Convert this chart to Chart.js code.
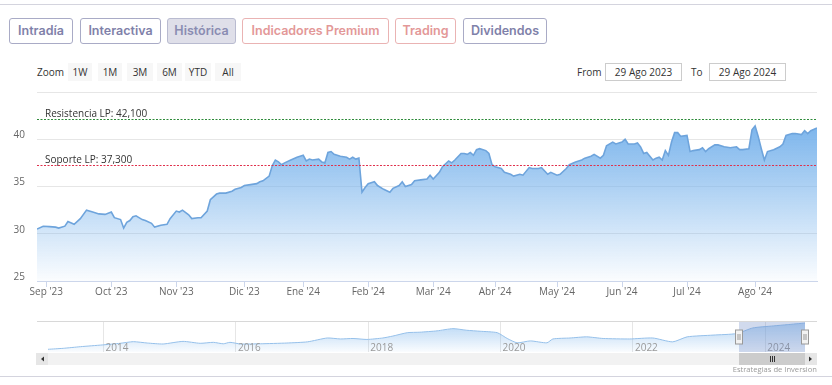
<!DOCTYPE html>
<html lang="es">
<head>
<meta charset="utf-8">
<title>Histórica</title>
<script src="https://cdn.jsdelivr.net/npm/chart.js@4.4.1/dist/chart.umd.min.js"></script>
<style>
  html, body { margin: 0; padding: 0; background: #fff; }
  body { width: 832px; height: 385px; position: relative; overflow: hidden; font-family: "Open Sans", "DejaVu Sans", sans-serif; }
  .rule { position: absolute; left: 0; width: 832px; height: 1px; background: #d4d4de; }
  .tab { position: absolute; top: 18px; height: 26px; box-sizing: border-box; border: 1px solid #a9abc6; border-radius: 3px;
         font-family: Inter, "Noto Sans", sans-serif; font-weight: 600; font-size: 12.5px; line-height: 24px; text-align: center; color: #7f81a9; }
  .tab.on { background: #dfdfe9; border-color: #b9bbd0; color: #8a8cb2; }
  .tab.warm { border-color: #eab3b3; color: #e39898; }
  .lbl { position: absolute; top: 63px; font-size: 10px; line-height: 18px; color: #333; }
  .btn { position: absolute; top: 63px; height: 18px; background: #f7f7f7; font-size: 10px; line-height: 18px; text-align: center; color: #333; }
  .inp { position: absolute; top: 63px; height: 18px; box-sizing: border-box; border: 1px solid #ccc; font-size: 10px; line-height: 16px; text-align: center; color: #333; }
  #main { position: absolute; left: 0; top: 85px; }
  #nav { position: absolute; left: 0; top: 318px; }
  .credit { position: absolute; right: 15px; top: 364px; font-size: 7.6px; line-height: 11px; color: #999; }
</style>
</head>
<body>
<div class="rule" style="top:4px"></div>

<div class="tab" style="left:9px;width:64px">Intradía</div>
<div class="tab" style="left:80px;width:81px">Interactiva</div>
<div class="tab on" style="left:167px;width:69px">Histórica</div>
<div class="tab warm" style="left:242px;width:147px">Indicadores Premium</div>
<div class="tab warm" style="left:395px;width:61px">Trading</div>
<div class="tab" style="left:463px;width:84px">Dividendos</div>

<div class="lbl" style="left:37px">Zoom</div>
<div class="btn" style="left:68px;width:24px">1W</div>
<div class="btn" style="left:98px;width:24px">1M</div>
<div class="btn" style="left:127px;width:26px">3M</div>
<div class="btn" style="left:157px;width:25px">6M</div>
<div class="btn" style="left:185px;width:26px">YTD</div>
<div class="btn" style="left:215px;width:26px">All</div>
<div class="lbl" style="left:577px">From</div>
<div class="inp" style="left:605px;width:77px">29 Ago 2023</div>
<div class="lbl" style="left:691px">To</div>
<div class="inp" style="left:709px;width:77px">29 Ago 2024</div>

<canvas id="main" width="832" height="215"></canvas>
<canvas id="nav" width="832" height="50"></canvas>
<div class="credit">Estrategias de Inversion</div>
<div class="rule" style="top:376px"></div>

<script>
/* ── Data: last year, trading-day index vs. close ───────────── */
var dayIdx = [0, 2, 4, 6, 7, 9, 10, 12, 14, 16, 18, 20, 22, 24, 25, 27, 28, 29, 30, 31,
  32, 34, 35, 37, 38, 40, 42, 43, 45, 46, 47, 49, 50, 52, 53, 55, 56, 58, 59, 61,
  63, 64, 66, 67, 69, 71, 72, 73, 75, 76, 77, 78, 79, 80, 82, 84, 85, 86, 87, 88,
  89, 91, 92, 93, 94, 95, 96, 98, 100, 101, 102, 103, 104, 105, 106, 107, 109, 110, 112, 114,
  115, 117, 118, 119, 121, 122, 124, 126, 127, 128, 130, 131, 133, 134, 135, 137, 138, 139, 140, 141,
  142, 143, 145, 146, 147, 148, 150, 151, 153, 154, 156, 157, 159, 160, 162, 163, 165, 166, 168, 169,
  171, 172, 174, 176, 177, 179, 180, 182, 183, 184, 186, 187, 189, 190, 191, 193, 194, 195, 196, 197,
  198, 199, 200, 201, 202, 203, 204, 205, 206, 207, 208, 210, 211, 212, 214, 215, 216, 217, 219, 220,
  222, 224, 226, 227, 228, 230, 231, 232, 233, 234, 235, 236, 238, 240, 241, 242, 244, 245, 247, 248,
  249, 250, 252];
var closePrice = [30.5, 30.8, 30.75, 30.7, 30.6, 30.8, 31.3, 31.0, 31.6, 32.5, 32.3, 32.1, 32.05, 32.3, 31.7, 31.5, 30.6, 31.2, 31.4, 31.8,
  31.9, 31.5, 31.4, 31.1, 30.7, 30.9, 31.0, 31.6, 32.4, 32.3, 32.5, 32.0, 31.6, 31.7, 31.7, 32.4, 33.6, 34.2, 34.3, 34.3,
  34.5, 34.7, 34.9, 35.1, 35.2, 35.3, 35.5, 35.6, 36.1, 37.2, 37.8, 37.6, 37.3, 37.5, 37.8, 38.1, 38.2, 38.3, 37.7, 37.9,
  37.8, 37.9, 37.6, 37.5, 38.6, 38.7, 38.4, 38.2, 38.1, 37.9, 38.1, 37.9, 38.0, 34.4, 34.9, 35.3, 35.5, 35.1, 34.7, 34.4,
  34.8, 35.1, 35.5, 35.0, 35.2, 35.6, 35.7, 35.8, 36.2, 35.8, 36.5, 37.1, 37.7, 37.5, 37.8, 38.5, 38.5, 38.4, 38.6, 38.3,
  38.9, 39.0, 38.8, 38.5, 37.3, 37.1, 36.9, 36.5, 36.3, 36.1, 36.3, 36.2, 37.0, 36.9, 36.9, 37.0, 36.3, 36.5, 36.2, 36.3,
  36.9, 37.3, 37.6, 37.8, 38.0, 38.2, 38.4, 38.0, 38.3, 39.3, 39.7, 39.5, 39.7, 40.0, 39.5, 39.5, 39.6, 39.2, 38.5, 38.6,
  38.2, 37.8, 38.0, 38.1, 37.8, 38.8, 38.3, 39.7, 40.7, 40.7, 40.3, 40.4, 38.7, 38.8, 38.9, 39.1, 38.7, 39.0, 39.4, 39.4,
  39.2, 39.1, 39.2, 38.9, 38.9, 39.0, 41.0, 41.4, 40.3, 39.0, 37.8, 38.7, 38.9, 39.2, 39.5, 40.4, 40.6, 40.6, 40.5, 40.9,
  40.6, 40.9, 41.2];

var monthIdx    = [3, 24, 45, 67, 86, 107, 128, 148, 168, 189, 210, 232];
var monthLabels = ["Sep '23", "Oct '23", "Nov '23", "Dic '23", "Ene '24", "Feb '24",
                   "Mar '24", "Abr '24", "May '24", "Jun '24", "Jul '24", "Ago '24"];
var yTicks = [25, 30, 35, 40, 45];

var levelValues = [42.1, 37.3];
var levelLabels = ['Resistencia LP: 42,100', 'Soporte LP: 37,300'];
var levelColors = ['#2e8b3a', '#e0304c'];

/* ── Navigator: full history (fractional year vs. close) ────── */
var navYears = [2013.16, 2013.39, 2013.65, 2013.98, 2014.25, 2014.45, 2014.66, 2014.90, 2015.20, 2015.46,
  2015.66, 2015.81, 2015.91, 2016.07, 2016.37, 2016.77, 2017.08, 2017.38, 2017.58, 2017.77,
  2017.98, 2018.22, 2018.37, 2018.59, 2018.78, 2019.04, 2019.28, 2019.49, 2019.69, 2019.95,
  2020.10, 2020.25, 2020.45, 2020.70, 2020.79, 2021.05, 2021.30, 2021.55, 2021.95, 2022.30,
  2022.60, 2022.82, 2023.21, 2023.57, 2023.81, 2024.12, 2024.33, 2024.60];
var navPrice = [14.3, 15.3, 17.0, 18.8, 20.5, 22.2, 20.8, 19.8, 22.5, 20.5,
  21.5, 20.0, 21.5, 19.8, 20.0, 20.8, 22.0, 26.0, 25.0, 25.5,
  24.5, 26.0, 28.0, 31.5, 32.0, 33.4, 35.7, 34.0, 33.0, 31.5,
  25.5, 21.0, 23.0, 21.0, 25.0, 26.0, 27.2, 25.5, 25.0, 26.0,
  22.0, 27.2, 29.0, 30.6, 36.4, 38.5, 39.8, 41.5];
var navYearTicks = [2014, 2016, 2018, 2020, 2022, 2024];
var navRange = [2023.6, 2024.6];

var labelFont = { family: '"Open Sans", "DejaVu Sans", sans-serif', size: 10 };

/* ── Horizontal support / resistance lines ──────────────────── */
var levelLines = {
  id: 'levelLines',
  afterDatasetsDraw: function(chart) {
    var ctx = chart.ctx, a = chart.chartArea, ys = chart.scales.y;
    ctx.save();
    levelValues.forEach(function(v, i) {
      var y = Math.round(ys.getPixelForValue(v)) + 0.5;
      ctx.strokeStyle = levelColors[i];
      ctx.lineWidth = 1.2;
      ctx.setLineDash([2, 1.5]);
      ctx.beginPath();
      ctx.moveTo(a.left, y);
      ctx.lineTo(a.right, y);
      ctx.stroke();
      ctx.setLineDash([]);
      ctx.fillStyle = '#333';
      ctx.font = '10px "Open Sans", "DejaVu Sans", sans-serif';
      ctx.textBaseline = 'alphabetic';
      ctx.fillText(levelLabels[i], a.left + 8, y - 3);
    });
    ctx.restore();
  }
};

function areaGradient(c, topValue, a0, a1) {
  var a = c.chartArea;
  if (!a) return null;
  var top = c.scales.y.getPixelForValue(topValue);
  var g = c.ctx.createLinearGradient(0, top, 0, a.bottom);
  g.addColorStop(0, 'rgba(124,181,236,' + a0 + ')');
  g.addColorStop(1, 'rgba(124,181,236,' + a1 + ')');
  return g;
}

new Chart(document.getElementById('main'), {
  type: 'line',
  data: {
    datasets: [{
      data: dayIdx.map(function(d, i) { return { x: d, y: closePrice[i] }; }),
      borderColor: '#6ea4dc',
      borderWidth: 1.6,
      pointRadius: 0,
      tension: 0,
      fill: 'start',
      backgroundColor: function(ctx) {
        return areaGradient(ctx.chart, Math.max.apply(null, closePrice), 1, 0.03);
      }
    }]
  },
  options: {
    responsive: false,
    animation: false,
    layout: { padding: { left: 0, right: 15, top: 7, bottom: 0 } },
    plugins: { legend: { display: false }, tooltip: { enabled: false } },
    scales: {
      x: {
        type: 'linear', min: 0, max: 252,
        afterBuildTicks: function(s) { s.ticks = monthIdx.map(function(v) { return { value: v }; }); },
        afterFit: function(s) { s.height = 19; s.paddingLeft = 0; s.paddingRight = 0; },
        grid: { drawOnChartArea: false, drawTicks: true, tickLength: 6, color: '#ccd6eb' },
        border: { color: '#ccd6eb' },
        ticks: {
          autoSkip: false, maxRotation: 0, padding: -1, color: '#666', font: labelFont,
          callback: function(v) { var i = monthIdx.indexOf(v); return i < 0 ? '' : monthLabels[i]; }
        }
      },
      y: {
        min: 25, max: 45,
        afterBuildTicks: function(s) { s.ticks = yTicks.map(function(v) { return { value: v }; }); },
        afterFit: function(s) { s.width = 37; s.paddingTop = 0; s.paddingBottom = 0; },
        grid: { color: '#e6e6e6', drawTicks: false },
        border: { display: false },
        ticks: {
          padding: 12, labelOffset: -4, color: '#666', font: labelFont,
          callback: function(v) { return v === 45 ? '' : v; }
        }
      }
    }
  },
  plugins: [levelLines]
});

/* ── Navigator mask, handles and scrollbar ──────────────────── */
var navigatorDecor = {
  id: 'navigatorDecor',
  afterDraw: function(chart) {
    var ctx = chart.ctx, a = chart.chartArea, xs = chart.scales.x;
    var x1 = Math.round(xs.getPixelForValue(navRange[0]));
    var x2 = Math.round(xs.getPixelForValue(navRange[1]));
    var mid = Math.round((a.top + a.bottom) / 2);
    ctx.save();
    // outline
    ctx.strokeStyle = '#d8d8d8';
    ctx.lineWidth = 1;
    ctx.beginPath();
    ctx.moveTo(a.left - 11, a.top + 0.5);
    ctx.lineTo(a.right + 12, a.top + 0.5);
    ctx.stroke();
    // selected window
    ctx.fillStyle = 'rgba(102,133,194,0.3)';
    ctx.fillRect(x1, a.top + 1, x2 - x1, a.bottom - a.top - 1);
    // handles
    [x1, x2].forEach(function(x) {
      ctx.fillStyle = '#f2f2f2';
      ctx.strokeStyle = '#999';
      ctx.fillRect(x - 3.5, mid - 7, 7, 14);
      ctx.strokeRect(x - 3.5, mid - 7, 7, 14);
      ctx.beginPath();
      ctx.moveTo(x - 1, mid - 3); ctx.lineTo(x - 1, mid + 3);
      ctx.moveTo(x + 1, mid - 3); ctx.lineTo(x + 1, mid + 3);
      ctx.stroke();
    });
    // scrollbar
    var sy = a.bottom + 1, sh = 12;
    ctx.fillStyle = '#f2f2f2';
    ctx.fillRect(a.left - 12, sy, a.right - a.left + 24, sh);
    ctx.fillStyle = '#e6e6e6';
    ctx.fillRect(a.left - 12, sy, 12, sh);
    ctx.fillRect(a.right, sy, 12, sh);
    ctx.fillStyle = '#cccccc';
    ctx.fillRect(x1, sy, x2 - x1, sh);
    ctx.fillStyle = '#333';
    ctx.beginPath();
    ctx.moveTo(a.left - 4, sy + 3.5); ctx.lineTo(a.left - 4, sy + 8.5); ctx.lineTo(a.left - 7, sy + 6);
    ctx.closePath(); ctx.fill();
    ctx.beginPath();
    ctx.moveTo(a.right + 4, sy + 3.5); ctx.lineTo(a.right + 4, sy + 8.5); ctx.lineTo(a.right + 7, sy + 6);
    ctx.closePath(); ctx.fill();
    ctx.strokeStyle = '#333';
    var gx = Math.round((x1 + x2) / 2) + 0.5;
    ctx.beginPath();
    [-2, 0, 2].forEach(function(d) { ctx.moveTo(gx + d, sy + 3); ctx.lineTo(gx + d, sy + 9); });
    ctx.stroke();
    ctx.restore();
  }
};

new Chart(document.getElementById('nav'), {
  type: 'line',
  data: {
    datasets: [{
      data: navYears.map(function(y, i) { return { x: y, y: navPrice[i] }; }),
      borderColor: '#95c0ea',
      borderWidth: 1,
      pointRadius: 0,
      tension: 0.2,
      fill: 'start',
      backgroundColor: function(ctx) {
        return areaGradient(ctx.chart, Math.max.apply(null, navPrice), 0.55, 0.04);
      }
    }]
  },
  options: {
    responsive: false,
    animation: false,
    layout: { padding: { left: 48, right: 27, top: 3, bottom: 0 } },
    plugins: { legend: { display: false }, tooltip: { enabled: false } },
    scales: {
      x: {
        type: 'linear', min: 2013.16, max: 2024.6,
        afterBuildTicks: function(s) { s.ticks = navYearTicks.map(function(v) { return { value: v }; }); },
        afterFit: function(s) { s.height = 16; s.paddingLeft = 0; s.paddingRight = 0; },
        grid: { color: '#e6e6e6', drawTicks: false },
        border: { display: false },
        ticks: {
          autoSkip: false, maxRotation: 0, mirror: true, align: 'start', padding: 0, labelOffset: 2, z: 1,
          color: '#999', font: { family: labelFont.family, size: 10, lineHeight: 0.7 },
          callback: function(v) { return String(v); }
        }
      },
      y: { display: false, min: 11.5, max: 43.6 }
    }
  },
  plugins: [navigatorDecor]
});
</script>
</body>
</html>
